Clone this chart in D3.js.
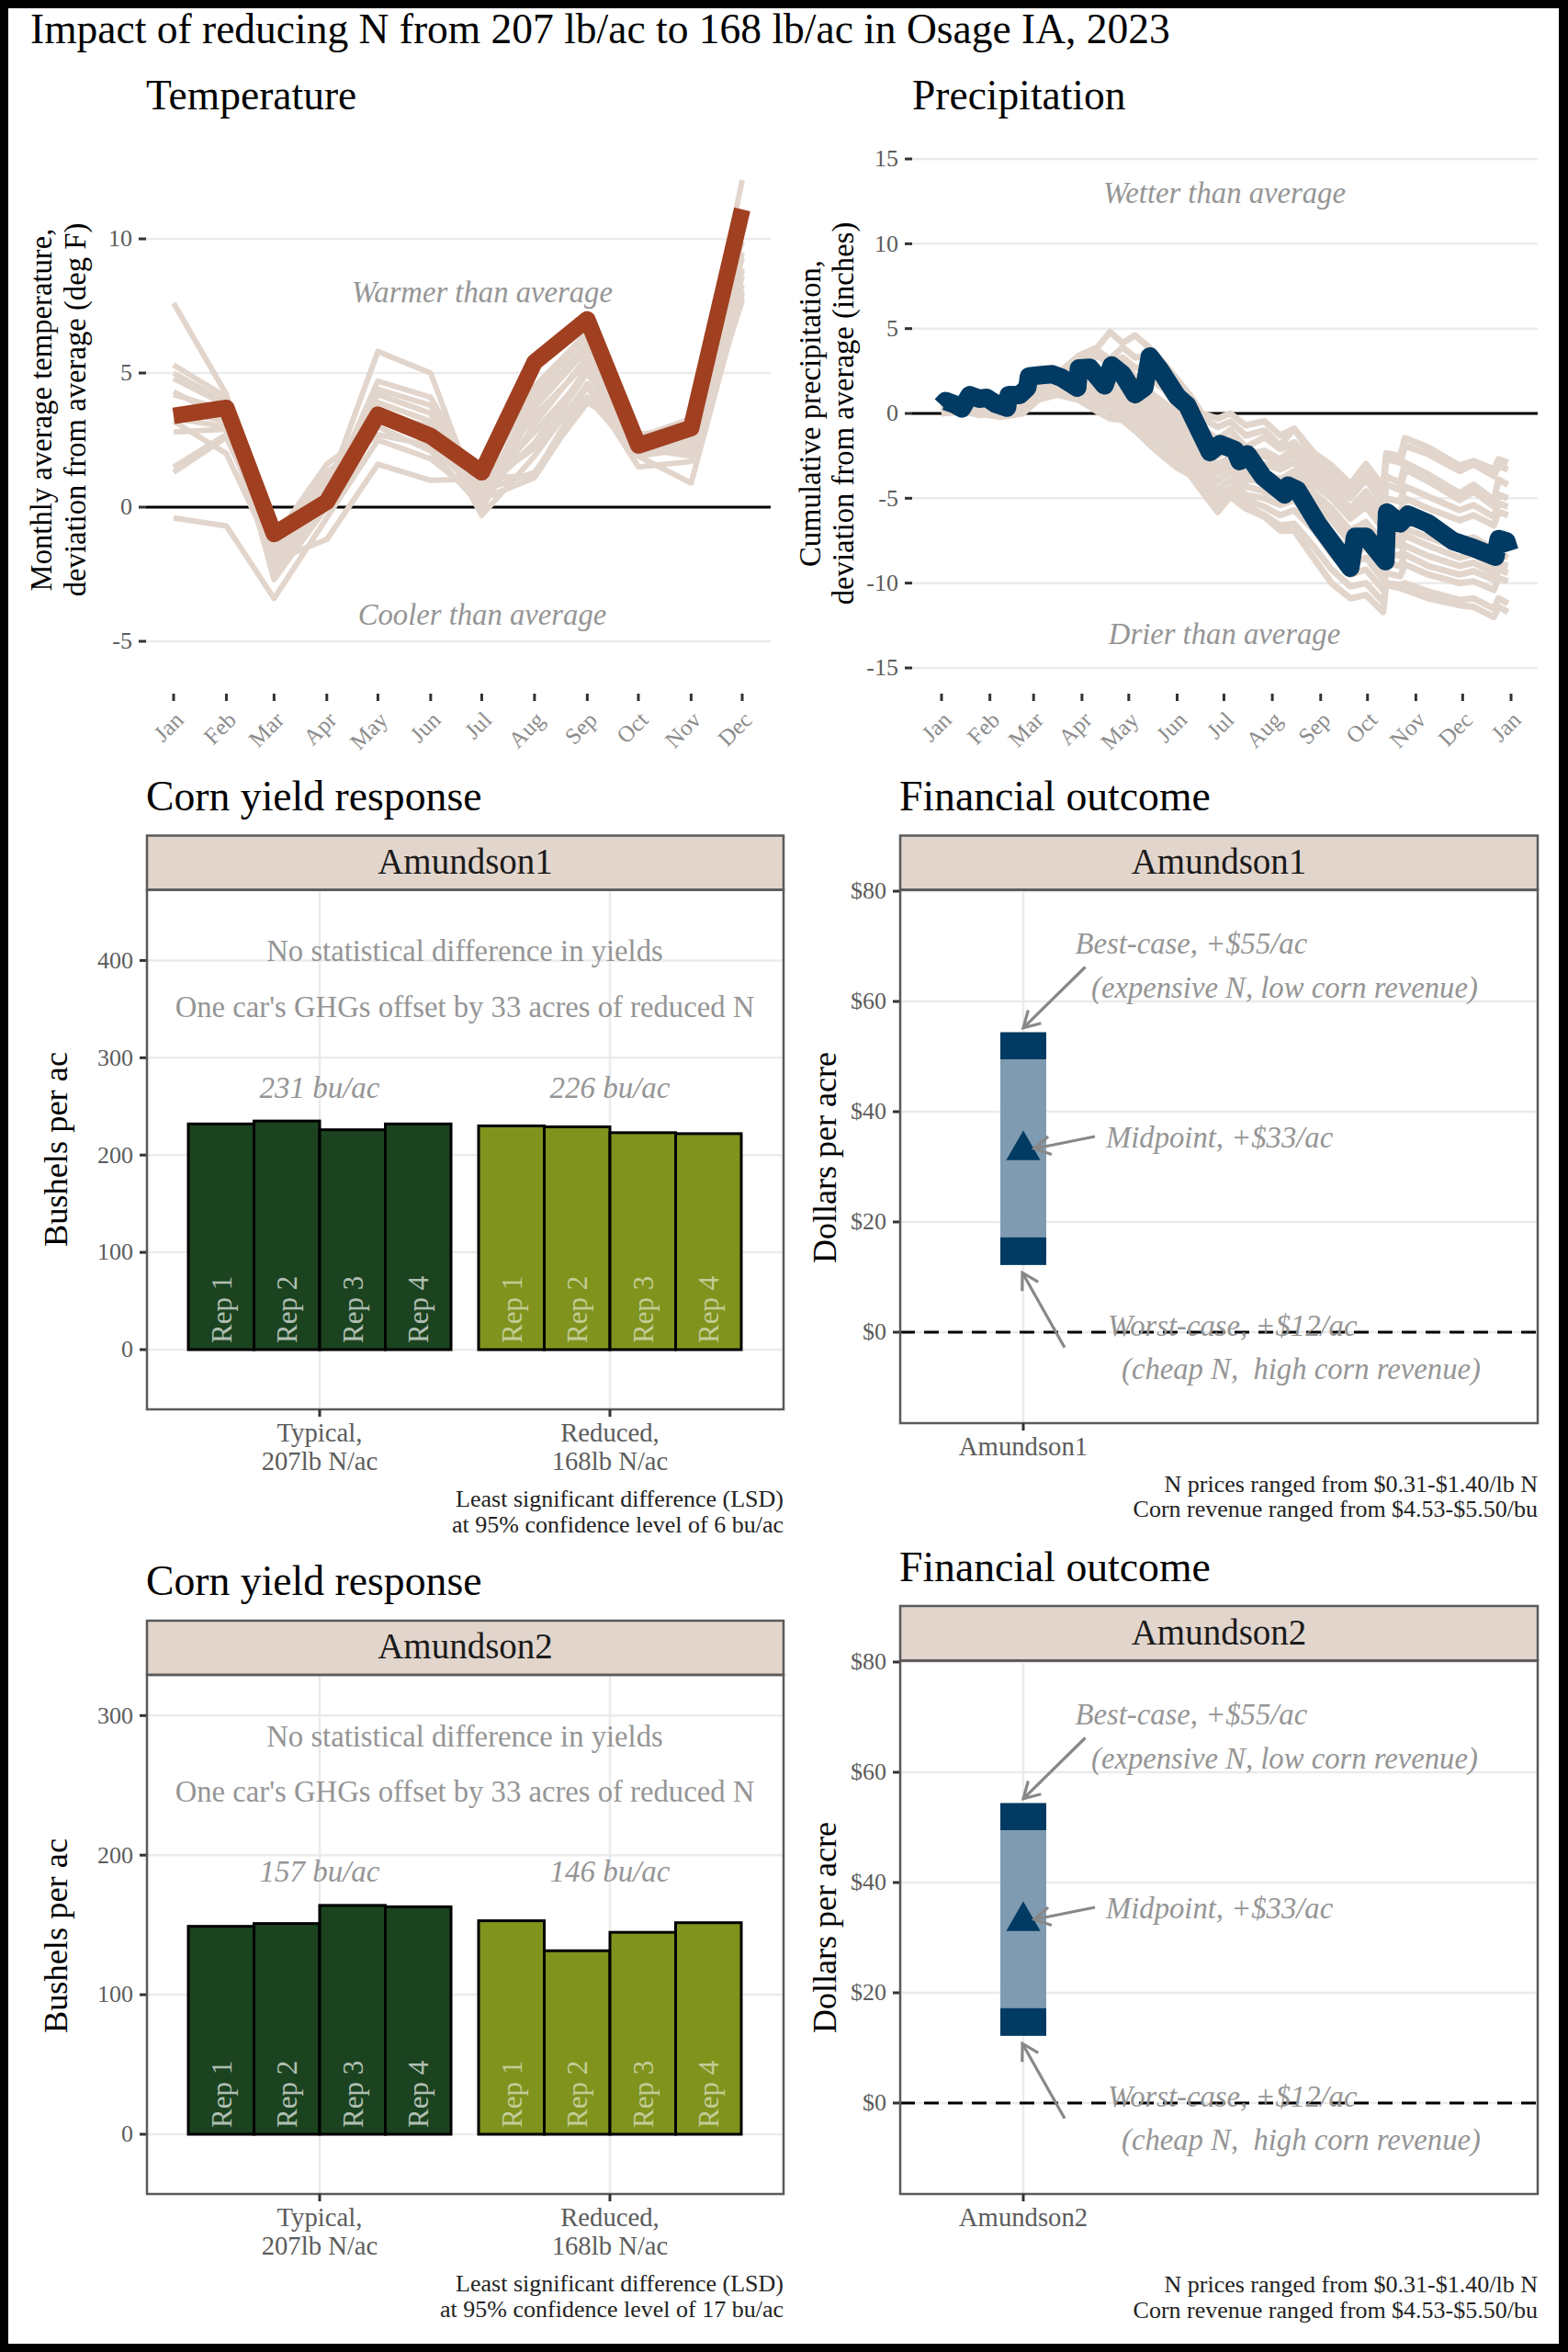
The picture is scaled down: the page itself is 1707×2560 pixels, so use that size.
<!DOCTYPE html>
<html>
<head>
<meta charset="utf-8">
<script src="https://cdn.jsdelivr.net/npm/d3@7"></script>
<style>
  body { margin: 0; background: #000; }
  text { font-family: "Liberation Serif", "Times New Roman", serif; white-space: pre; }
</style>
</head>
<body>
<div id="chart"></div>
<script>
// --- data ---
const monthStarts = d3.range(0, 12).map(m => new Date(Date.UTC(2023, m, 1)));
const monthStartsPlus = d3.range(0, 13).map(m => new Date(Date.UTC(2023, m, 1)));

const tempThisYear = [3.4, 3.7, -1.0, 0.2, 3.45, 2.65, 1.3, 5.4, 7.0, 2.3, 2.95, 11.1];
const tempOtherYears = [
  [7.6, 4.2, -1.9, 0.1, 3.2, 2.6, 0.9, 3.4, 5.4, 2.4, 2.6, 9.3],
  [5.3, 4.1, -2.1, 0.4, 4.7, 4.1, 0.7, 2.8, 5.0, 2.1, 2.5, 8.9],
  [5.0, 3.9, -1.7, 0.7, 4.4, 3.8, 0.4, 4.2, 6.4, 2.6, 3.3, 9.9],
  [4.8, 3.8, -2.7, 0.0, 4.2, 3.5, 0.2, 3.9, 6.1, 2.3, 2.9, 12.2],
  [4.3, 3.3, -1.4, 1.0, 3.9, 3.2, -0.3, 1.9, 4.6, 1.9, 2.2, 8.3],
  [3.3, 3.0, -1.6, 0.2, 3.5, 3.0, 0.6, 1.3, 3.9, 2.8, 2.0, 7.8],
  [-0.4, -0.7, -3.4, -0.4, 2.5, 1.8, 0.3, 1.1, 4.1, 1.9, 0.9, 8.0],
  [2.8, 2.9, -2.0, -1.2, 1.6, 1.0, 1.05, 1.2, 4.5, 1.5, 1.7, 7.7],
  [1.5, 2.7, -1.5, 1.3, 2.7, 2.3, 0.5, 2.4, 5.2, 2.2, 1.9, 8.6],
  [1.3, 2.6, -1.2, 1.6, 3.0, 2.1, 0.0, 3.1, 5.6, 2.0, 2.3, 8.1],
  [3.2, 2.0, -1.8, 0.6, 5.8, 5.0, -0.1, 3.7, 5.9, 2.3, 2.7, 9.5],
  [3.6, 3.2, -2.4, 0.9, 3.3, 2.7, 1.0, 4.5, 6.5, 2.5, 3.1, 10.3],
  [4.2, 3.6, -2.6, 0.5, 3.6, 2.9, 0.8, 2.2, 5.0, 2.7, 3.0, 8.8]
];
const tempTicks = [-5, 0, 5, 10];

// day of year for each point of the thick precipitation line
const precipDays = [0, 2.6, 8, 13, 18, 24, 29, 35, 42, 43, 50, 55, 56, 64, 71, 77, 87, 88, 95, 104.5, 109, 116, 124, 130, 133.5, 140, 151, 157.5, 172, 178.5, 188, 191, 196, 206, 220, 222, 228, 241, 262, 265, 272, 284.5, 285.5, 294, 299, 312, 328, 341, 355, 357, 362, 364];
const precipThisYear = [0.47, 0.73, 0.55, 0.29, 1.08, 0.87, 0.92, 0.55, 0.34, 1.08, 1.08, 1.52, 2.18, 2.26, 2.31, 2.1, 1.52, 2.65, 2.7, 1.65, 2.83, 2.31, 1.13, 1.52, 3.36, 2.57, 1.0, 0.47, -2.28, -1.81, -2.15, -2.81, -2.41, -3.73, -4.78, -4.25, -4.51, -6.48, -9.1, -7.27, -7.27, -8.71, -5.83, -6.48, -5.96, -6.48, -7.53, -7.93, -8.45, -7.4, -7.53, -8.11];
const precipOtherDays = [0, 12, 24, 38, 52, 62, 74, 88, 100, 108, 116, 124, 133, 143, 151, 159, 167, 177, 185, 195, 207, 217, 226, 239, 250, 262, 272, 283, 285, 294, 297, 312, 332, 341, 354, 357, 363];
const precipOtherYears = [
  [0.3, 0.7, 0.8, 1.0, 1.3, 1.9, 2.3, 3.4, 3.9, 4.8, 4.15, 4.6, 3.9, 2.9, 2.0, 1.1, 0.0, -0.3, 0.0, -0.7, -0.46, -1.3, -0.9, -2.35, -3.07, -4.16, -2.98, -4.3, -2.35, -2.5, -1.45, -2.0, -3.07, -2.8, -3.3, -2.7, -2.9],
  [0.2, 0.5, 0.6, 0.8, 1.1, 1.7, 2.1, 3.0, 3.7, 3.2, 3.9, 3.3, 3.4, 2.5, 1.6, 0.6, -0.3, -0.8, -0.5, -1.3, -1.0, -1.9, -0.9, -2.7, -3.4, -4.6, -3.4, -4.7, -2.7, -2.9, -1.9, -2.4, -3.4, -3.0, -3.7, -3.1, -3.3],
  [0.1, 0.4, 0.3, 0.5, 0.6, 1.5, 1.9, 2.6, 3.4, 2.9, 3.3, 2.7, 2.6, 1.9, 0.9, 0.2, -0.9, -1.5, -1.0, -2.0, -1.4, -2.1, -1.7, -3.0, -3.8, -5.0, -3.9, -5.3, -3.7, -4.1, -2.9, -3.6, -4.7, -4.2, -5.1, -3.9, -4.2],
  [0.2, 0.3, 0.2, 0.4, 0.7, 1.6, 1.7, 2.2, 2.6, 2.2, 2.9, 2.2, 2.1, 1.4, 0.4, -0.4, -1.3, -2.0, -1.5, -2.4, -2.2, -2.7, -2.0, -3.4, -4.3, -5.6, -4.6, -5.9, -4.2, -4.5, -3.3, -4.0, -5.1, -4.6, -5.5, -4.8, -5.0],
  [0.1, 0.3, 0.1, 0.2, 0.5, 1.2, 1.5, 1.6, 1.5, 1.2, 1.4, 1.1, 1.0, 0.3, -0.3, -1.1, -1.9, -2.3, -1.8, -2.6, -2.5, -3.1, -2.4, -3.7, -4.7, -5.9, -5.0, -6.3, -5.0, -5.2, -4.3, -4.9, -5.7, -5.4, -6.1, -5.3, -5.5],
  [0.0, 0.5, 0.1, 0.3, 0.9, 1.4, 1.6, 1.8, 1.9, 1.5, 1.9, 1.6, 1.3, 0.6, 0.0, -0.9, -1.7, -2.5, -2.0, -2.9, -3.0, -3.3, -2.9, -4.2, -5.0, -6.2, -5.5, -6.8, -5.7, -5.9, -5.0, -5.6, -6.3, -6.0, -6.6, -5.8, -6.0],
  [0.1, 0.2, 0.0, 0.3, 0.2, 1.3, 1.5, 1.5, 1.3, 1.0, 1.2, 0.9, 0.8, -0.1, -0.6, -1.3, -2.1, -3.0, -2.6, -3.4, -3.5, -3.9, -3.4, -4.7, -5.6, -6.9, -6.4, -7.6, -6.9, -7.0, -6.3, -6.8, -7.5, -7.3, -8.0, -7.2, -7.4],
  [0.2, 0.3, 0.2, 0.3, 0.3, 1.3, 1.6, 1.7, 1.0, 0.8, 0.7, 0.6, 0.5, -0.3, -0.8, -1.5, -2.3, -3.2, -2.8, -3.6, -3.8, -4.2, -3.7, -4.9, -6.0, -7.2, -6.8, -8.0, -7.3, -7.4, -6.8, -7.3, -8.0, -7.8, -8.4, -7.7, -7.9],
  [0.3, 0.1, 0.2, 0.1, 0.1, 1.2, 1.4, 1.2, 0.8, 0.6, 0.9, 0.4, 0.3, -0.5, -1.0, -1.8, -2.6, -3.5, -3.0, -3.9, -4.0, -4.4, -4.1, -5.2, -6.3, -7.6, -7.2, -8.4, -7.7, -7.8, -7.2, -7.8, -8.5, -8.3, -9.0, -8.2, -8.5],
  [0.1, 0.3, 0.2, 0.2, 0.4, 1.1, 1.5, 1.3, 0.9, 0.5, 0.4, 0.1, -0.1, -0.9, -1.4, -2.2, -3.0, -4.0, -3.4, -4.3, -4.6, -4.9, -4.6, -5.7, -7.0, -8.3, -7.9, -9.2, -8.2, -8.4, -7.8, -8.4, -9.0, -8.8, -9.4, -8.8, -9.0],
  [0.2, 0.2, 0.0, 0.1, 0.3, 1.0, 1.3, 1.0, 0.6, 0.3, 0.3, -0.2, -0.5, -1.3, -1.9, -2.6, -3.3, -4.5, -3.9, -4.8, -5.0, -5.4, -5.1, -6.3, -7.6, -8.9, -8.5, -9.8, -8.8, -9.0, -8.3, -9.0, -9.5, -9.3, -9.8, -9.2, -9.4],
  [0.0, 0.2, -0.1, 0.0, 0.2, 0.9, 1.2, 0.9, 0.4, 0.1, 0.0, -0.5, -0.9, -1.6, -2.3, -3.0, -3.8, -5.0, -4.4, -5.1, -5.5, -6.0, -5.7, -6.9, -8.3, -9.5, -9.2, -10.4, -9.4, -9.6, -8.9, -9.5, -10.0, -9.9, -10.4, -9.7, -9.9],
  [0.1, 0.1, 0.1, -0.1, 0.1, 1.0, 1.4, 1.1, 0.3, 0.2, -0.2, -0.7, -1.3, -2.1, -2.8, -3.4, -4.2, -5.5, -4.7, -5.4, -6.0, -6.6, -6.5, -7.9, -9.2, -10.2, -10.0, -11.1, -10.0, -10.1, -10.0, -10.5, -11.0, -10.9, -11.5, -10.9, -11.2],
  [0.0, 0.1, 0.0, -0.2, 0.0, 0.8, 1.1, 0.8, 0.1, -0.3, -0.4, -1.0, -1.8, -2.6, -3.2, -3.6, -4.6, -5.8, -4.9, -5.6, -6.1, -6.9, -6.9, -8.6, -10.0, -10.9, -10.7, -11.7, -10.1, -10.3, -10.4, -10.9, -11.3, -11.4, -12.0, -11.4, -11.7]
];
const precipTicks = [-15, -10, -5, 0, 5, 10, 15];

const treatments = ["Typical", "Reduced"];
const treatmentLabels = [["Typical,", "207lb N/ac"], ["Reduced,", "168lb N/ac"]];
const reps = ["Rep 1", "Rep 2", "Rep 3", "Rep 4"];

const yield1Typical = [232, 235, 226, 232];
const yield1Reduced = [230, 229, 223, 222];
const yield1Means = ["231 bu/ac", "226 bu/ac"];
const yield1Ticks = [0, 100, 200, 300, 400];
const yield1NoteY = [399, 342];
const yield1MeanY = 259;

const yield2Typical = [149, 151, 164, 163];
const yield2Reduced = [153, 131.5, 144.7, 151.6];
const yield2Means = ["157 bu/ac", "146 bu/ac"];
const yield2Ticks = [0, 100, 200, 300];
const yield2NoteY = [278, 238];
const yield2MeanY = 181;

const yieldNotes = ["No statistical difference in yields", "One car's GHGs offset by 33 acres of reduced N"];

const finTicks = [0, 20, 40, 60, 80];
const finLow = 12.2;
const finHigh = 54.4;
const finMid = 33;
const finCaps = [[49.5, 54.4], [12.2, 17.2]];
// annotation labels: text, x (site units), y (dollars)
const finLabels = ["Best-case, +$55/ac", "(expensive N, low corn revenue)", "Midpoint, +$33/ac", "Worst-case, +$12/ac", "(cheap N,  high corn revenue)"];
const finLabelX = [1.566, 1.74, 1.9, 1.92, 2.07];
const finLabelY = [68.7, 60.6, 33.5, -0.67, -8.5];
// arrows: x0, y0, x1, y1
const finArrows = [[1.675, 66.25, 1.0, 55.2], [1.78, 35.5, 1.12, 33.3], [1.45, -2.8, 0.99, 10.8]];
const finCaption = ["N prices ranged from $0.31-$1.40/lb N", "Corn revenue ranged from $4.53-$5.50/bu"];

// --- colours ---
const sand = "#e2d5cc";
const rust = "#a04021";
const navy = "#013a63";
const steel = "#7f9bb1";
const darkGreen = "#1b431f";
const olive = "#7f931d";
const gridColor = "#ebebeb";
const noteColor = "#959595";
const tickText = "#5c5c5c";
const borderColor = "#5a5a5a";

// --- page ---
const svg = d3.select("#chart").append("svg")
  .attr("width", 1707)
  .attr("height", 2560)
  .style("display", "block");

svg.append("rect").attr("width", 1707).attr("height", 2560).attr("fill", "#000");
svg.append("rect").attr("x", 9).attr("y", 9).attr("width", 1688).attr("height", 2542).attr("fill", "#fff");

const addText = (x, y, str, size, opts = {}) => svg.append("text")
  .attr("x", x).attr("y", y)
  .attr("font-size", size)
  .attr("fill", opts.fill || "#000")
  .attr("font-style", opts.italic ? "italic" : null)
  .attr("text-anchor", opts.anchor || "start")
  .text(str);

const addRotated = (x, y, str, size) => svg.append("text")
  .attr("transform", `translate(${x},${y}) rotate(-90)`)
  .attr("font-size", size)
  .attr("fill", "#000")
  .attr("text-anchor", "middle")
  .text(str);

// horizontal grid + left ticks
const drawY = (y, ticks, left, right, fmt, size) => {
  svg.append("g")
    .attr("transform", `translate(${left},0)`)
    .call(d3.axisLeft(y).tickValues(ticks).tickSize(left - right).tickFormat("").offset(0))
    .call(g => g.select(".domain").remove())
    .call(g => g.selectAll("line").attr("stroke", gridColor).attr("stroke-width", 2.5));

  svg.append("g")
    .attr("transform", `translate(${left},0)`)
    .call(d3.axisLeft(y).tickValues(ticks).tickSize(8).tickPadding(7).tickFormat(fmt).offset(0))
    .call(g => g.select(".domain").remove())
    .call(g => g.selectAll("line").attr("stroke", "#333").attr("stroke-width", 3))
    .call(g => g.selectAll("text").attr("font-size", size).attr("fill", tickText)
      .attr("font-family", '"Liberation Serif", serif'));
};

// month axis with slanted labels, used by the two weather panels
const drawMonths = (x, ticks, top) => {
  svg.append("g")
    .attr("transform", `translate(0,${top})`)
    .call(d3.axisBottom(x).tickValues(ticks).tickSize(8).tickFormat("").offset(0))
    .call(g => g.select(".domain").remove())
    .call(g => g.selectAll("line").attr("stroke", "#333").attr("stroke-width", 3));

  svg.append("g").selectAll("text")
    .data(ticks)
    .join("text")
    .attr("transform", d => `translate(${x(d) + 6},${top + 24}) rotate(-45)`)
    .attr("dy", "0.35em")
    .attr("text-anchor", "end")
    .attr("font-size", 25)
    .attr("fill", "#8c8c8c")
    .text(d => d3.utcFormat("%b")(d));
};

// title
addText(33, 47, "Impact of reducing N from 207 lb/ac to 168 lb/ac in Osage IA, 2023", 45.5);

// 1. Temperature
(function () {
  const left = 159, right = 839;
  const x = d3.scaleUtc().domain([monthStarts[0], monthStarts[11]]).range([189, 808]);
  const y = d3.scaleLinear().domain([-5, 10]).range([698, 260]);
  const line = d3.line().x((d, i) => x(monthStarts[i])).y(d => y(d));

  addText(159, 119, "Temperature", 45.5);
  drawY(y, tempTicks, left, right, d => d, 26);

  svg.append("line").attr("x1", left).attr("x2", right).attr("y1", y(0)).attr("y2", y(0))
    .attr("stroke", "#000").attr("stroke-width", 3);

  svg.append("g").selectAll("path")
    .data(tempOtherYears)
    .join("path")
    .attr("d", line)
    .attr("fill", "none")
    .attr("stroke", sand)
    .attr("stroke-width", 6)
    .attr("stroke-linejoin", "round");

  svg.append("path")
    .attr("d", line(tempThisYear))
    .attr("fill", "none")
    .attr("stroke", rust)
    .attr("stroke-width", 18)
    .attr("stroke-linejoin", "round");

  drawMonths(x, monthStarts, 755);

  addText(525, 329, "Warmer than average", 32.7, { italic: true, fill: noteColor, anchor: "middle" });
  addText(525, 680, "Cooler than average", 32.7, { italic: true, fill: noteColor, anchor: "middle" });
  addRotated(56, 446, "Monthly average temperature,", 32.7);
  addRotated(93, 446, "deviation from average (deg F)", 32.7);
})();

// 2. Precipitation
(function () {
  const left = 993, right = 1674;
  const x = d3.scaleUtc().domain([monthStartsPlus[0], monthStartsPlus[12]]).range([1025, 1645]);
  const y = d3.scaleLinear().domain([-15, 15]).range([727, 173]);
  const toDate = d => d3.utcHour.offset(monthStartsPlus[0], d * 24);

  addText(993, 119, "Precipitation", 45.5);
  drawY(y, precipTicks, left, right, d => d, 26);

  svg.append("line").attr("x1", left).attr("x2", right).attr("y1", y(0)).attr("y2", y(0))
    .attr("stroke", "#000").attr("stroke-width", 3);

  const otherLine = d3.line().x((d, i) => x(toDate(precipOtherDays[i]))).y(d => y(d));
  svg.append("g").selectAll("path")
    .data(precipOtherYears)
    .join("path")
    .attr("d", otherLine)
    .attr("fill", "none")
    .attr("stroke", sand)
    .attr("stroke-width", 7)
    .attr("stroke-linejoin", "round");

  const thisLine = d3.line().x((d, i) => x(toDate(precipDays[i]))).y(d => y(d));
  svg.append("path")
    .attr("d", thisLine(precipThisYear))
    .attr("fill", "none")
    .attr("stroke", navy)
    .attr("stroke-width", 20)
    .attr("stroke-linejoin", "round");

  drawMonths(x, monthStartsPlus, 755);

  addText(1333, 221, "Wetter than average", 32.7, { italic: true, fill: noteColor, anchor: "middle" });
  addText(1333, 701, "Drier than average", 32.7, { italic: true, fill: noteColor, anchor: "middle" });
  addRotated(893, 450, "Cumulative precipitation,", 32.7);
  addRotated(929, 450, "deviation from average (inches)", 32.7);
})();

// strip + outer border of a facet panel
const drawStrip = (left, right, top, bottom, labelY, label) => {
  svg.append("rect").attr("x", left).attr("y", top).attr("width", right - left).attr("height", bottom - top)
    .attr("fill", sand).attr("stroke", borderColor).attr("stroke-width", 2.5);
  addText((left + right) / 2, labelY, label, 39, { anchor: "middle", fill: "#1a1a1a" });
};

// 3. Corn yield panels
const drawYield = (cfg) => {
  const left = 160, right = 853;
  const y = d3.scaleLinear().domain([0, 100]).range([cfg.zeroY, cfg.zeroY - cfg.per100]);
  const x = d3.scaleBand().domain(treatments).range([190, 822]);
  const rep = d3.scaleBand().domain(reps).range([-143, 143]);
  const center = d => x(d) + x.bandwidth() / 2;

  addText(159, cfg.titleY, "Corn yield response", 45.7);

  drawY(y, cfg.ticks, left, right, d => d, 26);

  svg.append("g")
    .attr("transform", `translate(0,${cfg.bottom})`)
    .call(d3.axisBottom(x).tickSize(cfg.stripBottom - cfg.bottom).tickFormat("").offset(0))
    .call(g => g.select(".domain").remove())
    .call(g => g.selectAll("line").attr("stroke", gridColor).attr("stroke-width", 2.5));

  treatments.forEach((t, ti) => {
    const g = svg.append("g").attr("transform", `translate(${center(t)},0)`);
    const vals = ti === 0 ? cfg.typical : cfg.reduced;
    g.selectAll("rect")
      .data(vals)
      .join("rect")
      .attr("x", (d, i) => rep(reps[i]))
      .attr("y", d => y(d))
      .attr("width", rep.bandwidth())
      .attr("height", d => y(0) - y(d))
      .attr("fill", ti === 0 ? darkGreen : olive)
      .attr("stroke", "#000")
      .attr("stroke-width", 3);

    g.selectAll("text")
      .data(reps)
      .join("text")
      .attr("transform", d => `translate(${rep(d) + rep.bandwidth() / 2},${y(0) - 7}) rotate(-90)`)
      .attr("dy", "0.35em")
      .attr("font-size", 31)
      .attr("fill", "#fff")
      .attr("fill-opacity", ti === 0 ? 0.68 : 0.55)
      .text(d => d);

    addText(center(t), y(cfg.meanY), cfg.means[ti], 33, { italic: true, fill: noteColor, anchor: "middle" });
  });

  yieldNotes.forEach((n, i) => {
    addText(506, y(cfg.noteY[i]), n, 32.7, { fill: noteColor, anchor: "middle" });
  });

  drawStrip(left, right, cfg.stripTop, cfg.stripBottom, cfg.stripLabelY, cfg.label);
  svg.append("rect").attr("x", left).attr("y", cfg.stripBottom).attr("width", right - left)
    .attr("height", cfg.bottom - cfg.stripBottom)
    .attr("fill", "none").attr("stroke", borderColor).attr("stroke-width", 2.5);

  svg.append("g")
    .attr("transform", `translate(0,${cfg.bottom})`)
    .call(d3.axisBottom(x).tickSize(8).tickFormat("").offset(0))
    .call(g => g.select(".domain").remove())
    .call(g => g.selectAll("line").attr("stroke", "#333").attr("stroke-width", 3));

  treatments.forEach((t, ti) => {
    addText(center(t), cfg.bottom + 35, treatmentLabels[ti][0], 28.7, { anchor: "middle", fill: tickText });
    addText(center(t), cfg.bottom + 66, treatmentLabels[ti][1], 28.7, { anchor: "middle", fill: tickText });
  });

  addRotated(73, cfg.yTitleY, "Bushels per ac", 36.4);
  addText(853, cfg.bottom + 106, "Least significant difference (LSD)", 26, { anchor: "end", fill: "#222" });
  addText(853, cfg.bottom + 134, cfg.lsd, 26, { anchor: "end", fill: "#222" });
};

drawYield({
  label: "Amundson1", typical: yield1Typical, reduced: yield1Reduced, means: yield1Means,
  ticks: yield1Ticks, noteY: yield1NoteY, meanY: yield1MeanY,
  lsd: "at 95% confidence level of 6 bu/ac",
  titleY: 882, stripTop: 909.5, stripBottom: 968.5, stripLabelY: 951, bottom: 1534,
  zeroY: 1469, per100: 105.9, yTitleY: 1251
});
drawYield({
  label: "Amundson2", typical: yield2Typical, reduced: yield2Reduced, means: yield2Means,
  ticks: yield2Ticks, noteY: yield2NoteY, meanY: yield2MeanY,
  lsd: "at 95% confidence level of 17 bu/ac",
  titleY: 1735.5, stripTop: 1764, stripBottom: 1823, stripLabelY: 1805, bottom: 2388,
  zeroY: 2323, per100: 151.9, yTitleY: 2107
});

// 4. Financial panels
const drawFinancial = (cfg) => {
  const left = 980, right = 1674;
  const y = d3.scaleLinear().domain([0, 80]).range([cfg.zeroY, cfg.zeroY - 480]);
  const x = d3.scaleLinear().domain([0, 1]).range([1014, 1114]);

  addText(979, cfg.titleY, "Financial outcome", 45.7);

  drawY(y, finTicks, left, right, d => "$" + d, 26);

  svg.append("g")
    .attr("transform", `translate(0,${cfg.bottom})`)
    .call(d3.axisBottom(x).tickValues([1]).tickSize(cfg.stripBottom - cfg.bottom).tickFormat("").offset(0))
    .call(g => g.select(".domain").remove())
    .call(g => g.selectAll("line").attr("stroke", gridColor).attr("stroke-width", 2.5));

  svg.append("rect")
    .attr("x", x(0.75)).attr("width", x(1.25) - x(0.75))
    .attr("y", y(finHigh)).attr("height", y(finLow) - y(finHigh))
    .attr("fill", steel);

  svg.append("g").selectAll("rect")
    .data(finCaps)
    .join("rect")
    .attr("x", x(0.75)).attr("width", x(1.25) - x(0.75))
    .attr("y", d => y(d[1])).attr("height", d => y(d[0]) - y(d[1]))
    .attr("fill", navy);

  svg.append("path")
    .attr("d", d3.symbol(d3.symbolTriangle, 600)())
    .attr("transform", `translate(${x(1)},${y(finMid)})`)
    .attr("fill", navy);

  svg.append("line").attr("x1", left).attr("x2", right).attr("y1", y(0)).attr("y2", y(0))
    .attr("stroke", "#000").attr("stroke-width", 3).attr("stroke-dasharray", "16 10");

  // open arrow heads, ggplot style
  finArrows.forEach(a => {
    const x0 = x(a[0]), y0 = y(a[1]), x1 = x(a[2]), y1 = y(a[3]);
    const ang = Math.atan2(y1 - y0, x1 - x0);
    const head = 20, spread = Math.PI / 6;
    const p = d3.path();
    p.moveTo(x0, y0);
    p.lineTo(x1, y1);
    p.moveTo(x1 - head * Math.cos(ang - spread), y1 - head * Math.sin(ang - spread));
    p.lineTo(x1, y1);
    p.lineTo(x1 - head * Math.cos(ang + spread), y1 - head * Math.sin(ang + spread));
    svg.append("path").attr("d", p.toString())
      .attr("fill", "none").attr("stroke", "#888").attr("stroke-width", 3.2);
  });

  finLabels.forEach((t, i) => {
    addText(x(finLabelX[i]), y(finLabelY[i]), t, 32.7, { italic: true, fill: noteColor });
  });

  drawStrip(left, right, cfg.stripTop, cfg.stripBottom, cfg.stripLabelY, cfg.label);
  svg.append("rect").attr("x", left).attr("y", cfg.stripBottom).attr("width", right - left)
    .attr("height", cfg.bottom - cfg.stripBottom)
    .attr("fill", "none").attr("stroke", borderColor).attr("stroke-width", 2.5);

  svg.append("g")
    .attr("transform", `translate(0,${cfg.bottom})`)
    .call(d3.axisBottom(x).tickValues([1]).tickSize(8).tickFormat("").offset(0))
    .call(g => g.select(".domain").remove())
    .call(g => g.selectAll("line").attr("stroke", "#333").attr("stroke-width", 3));

  addText(x(1), cfg.tickLabelY, cfg.label, 28.7, { anchor: "middle", fill: tickText });
  addRotated(910, cfg.yTitleY, "Dollars per acre", 36);
  addText(1674, cfg.capY[0], finCaption[0], 26, { anchor: "end", fill: "#222" });
  addText(1674, cfg.capY[1], finCaption[1], 26, { anchor: "end", fill: "#222" });
};

drawFinancial({
  label: "Amundson1", titleY: 882, stripTop: 909.5, stripBottom: 968.5, stripLabelY: 951,
  bottom: 1549, zeroY: 1450, tickLabelY: 1583.5, yTitleY: 1260, capY: [1624, 1651]
});
drawFinancial({
  label: "Amundson2", titleY: 1720.5, stripTop: 1748, stripBottom: 1807.5, stripLabelY: 1790,
  bottom: 2388, zeroY: 2289, tickLabelY: 2422.5, yTitleY: 2098, capY: [2494.5, 2522.5]
});
</script>
</body>
</html>
